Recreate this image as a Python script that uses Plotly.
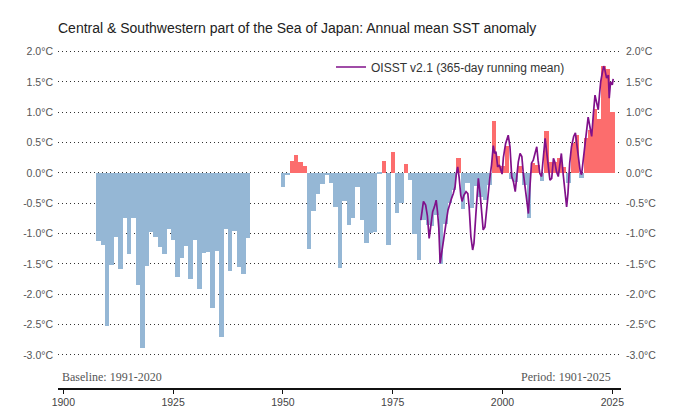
import plotly.graph_objects as go

# ---- annual mean SST anomaly bars (°C, baseline 1991-2020) ----
years_a = list(range(1908, 1943))
vals_a = [-1.13, -1.18, -2.52, -1.52, -1.05, -1.58, -0.75, -1.34, -0.75, -1.85,
          -2.88, -1.54, -0.97, -1.05, -1.22, -1.34, -0.92, -1.11, -1.71, -1.40,
          -1.21, -1.75, -1.10, -1.92, -1.32, -1.31, -2.23, -1.29, -2.71, -0.93,
          -1.62, -0.95, -1.55, -1.66, -1.07]
years_b = list(range(1950, 2026))
vals_b = [-0.23, -0.04, 0.20, 0.29, 0.18, 0.11, -1.26, -0.62, -0.34, -0.18,
          -0.04, -0.17, -0.56, -1.56, -0.46, -0.86, -0.75, -0.23, -0.77, -1.15,
          -0.99, -0.97, -0.02, 0.19, -1.19, 0.35, -0.66, -0.50, 0.15, -0.11,
          -1.00, -1.44, -0.78, -0.86, -0.88, -0.70, -1.50, -0.85, -0.50, -0.28,
          0.24, -0.60, -0.17, -0.58, -0.22, -0.40, -0.45, -0.20, 0.86, 0.28,
          0.12, 0.45, -0.10, -0.15, 0.12, -0.20, -0.75, 0.17, 0.13, -0.14,
          0.69, 0.18, 0.18, 0.25, 0.10, -0.17, 0.50, 0.62, -0.08, 0.58,
          0.70, 1.05, 0.88, 1.76, 1.71, 1.01]

# ---- OISST v2.1 365-day running mean (decimal year, °C) ----
oi_t = [1981.4, 1982.0, 1982.5, 1982.9, 1983.3, 1983.7, 1984.1, 1984.5, 1984.9, 1985.2,
        1985.5, 1985.8, 1986.2, 1986.5, 1986.9, 1987.3, 1987.6, 1988.0, 1988.4, 1988.8,
        1989.2, 1989.5, 1989.8, 1990.1, 1990.5, 1990.8, 1991.2, 1991.7, 1992.1, 1992.4,
        1992.8, 1993.2, 1993.5, 1993.9, 1994.2, 1994.5, 1994.9, 1995.3, 1995.6, 1996.0,
        1996.4, 1996.8, 1997.1, 1997.5, 1997.9, 1998.2, 1998.5, 1998.9, 1999.3, 1999.6,
        1999.9, 2000.2, 2000.7, 2001.3, 2001.7, 2002.1, 2002.5, 2002.9, 2003.2, 2003.6,
        2004.0, 2004.4, 2004.7, 2005.1, 2005.5, 2005.9, 2006.2, 2006.6, 2007.0, 2007.4,
        2007.8, 2008.1, 2008.5, 2008.9, 2009.3, 2009.7, 2010.0, 2010.4, 2010.8, 2011.2,
        2011.6, 2011.9, 2012.3, 2012.7, 2013.1, 2013.4, 2013.8, 2014.2, 2014.6, 2014.9,
        2015.3, 2015.7, 2016.2, 2016.6, 2017.0, 2017.4, 2017.7, 2018.0, 2018.4, 2018.8,
        2019.2, 2019.5, 2019.9, 2020.3, 2020.7, 2021.06, 2021.4, 2021.8, 2022.05, 2022.35,
        2022.7, 2023.03, 2023.3, 2023.7, 2024.1, 2024.3, 2024.6, 2025.0, 2025.2]
oi_v = [-0.78, -0.47, -0.53, -0.71, -1.08, -0.80, -0.64, -0.56, -0.45, -0.64,
        -0.91, -1.49, -1.27, -1.11, -0.89, -0.75, -0.61, -0.50, -0.42, -0.34,
        -0.23, -0.01, 0.10, -0.06, -0.37, -0.47, -0.37, -0.31, -0.34, -0.56,
        -1.05, -1.27, -1.16, -0.72, -0.34, -0.09, -0.34, -0.72, -0.94, -0.89,
        -0.56, -0.26, -0.09, 0.13, 0.45, 0.32, 0.35, 0.10, 0.13, 0.05,
        -0.02, 0.25, 0.48, 0.62, 0.43, -0.06, -0.15, -0.31, -0.12, 0.18,
        0.32, 0.27, 0.02, -0.23, -0.50, -0.67, -0.28, 0.16, 0.21, 0.32,
        0.43, 0.21, -0.01, -0.06, 0.32, 0.57, 0.38, 0.16, -0.12, -0.09,
        0.24, 0.18, 0.02, -0.06, 0.20, 0.32, -0.01, -0.28, -0.56, -0.34,
        0.16, 0.43, 0.60, 0.66, 0.40, 0.12, 0.02, -0.03, 0.24, 0.46,
        0.79, 0.92, 0.76, 0.60, 0.98, 1.28, 1.17, 1.04, 1.26, 1.50,
        1.64, 1.76, 1.70, 1.56, 1.61, 1.23, 1.50, 1.45, 1.55]

tick_vals = [2.0, 1.5, 1.0, 0.5, 0.0, -0.5, -1.0, -1.5, -2.0, -2.5, -3.0]
tick_text = ["2.0°C", "1.5°C", "1.0°C", "0.5°C", "0.0°C", "-0.5°C", "-1.0°C",
             "-1.5°C", "-2.0°C", "-2.5°C", "-3.0°C"]
x_ticks = [1900, 1925, 1950, 1975, 2000, 2025]

BLUE = "#95b7d5"
RED = "#fc6d6d"
PURPLE = "#80108a"
SANS = "Liberation Sans, Arial, sans-serif"
SERIF = "Liberation Serif, Times New Roman, serif"

# page body has an 8px margin, so the figure is laid out 8px smaller
W, H = 672, 412
ML, MR, MT, MB = 50, 59, 28, 32
PW, PH = W - ML - MR, H - MT - MB  # 563 x 352

bar_x = years_a + years_b
bar_y = vals_a + vals_b
bar_c = [RED if v > 0 else BLUE for v in bar_y]

fig = go.Figure()
fig.add_trace(go.Bar(x=bar_x, y=bar_y, width=1.0, marker=dict(color=bar_c, line=dict(width=0)),
                     showlegend=False, hoverinfo="x+y"))
fig.add_trace(go.Scatter(x=oi_t, y=oi_v, mode="lines", name="OISST v2.1 (365-day running mean)",
                         line=dict(color=PURPLE, width=1.7)))
fig.add_trace(go.Scatter(x=[], y=[], yaxis="y2", showlegend=False, hoverinfo="skip"))

yr = [-3.544, 2.255]
yaxis_common = dict(range=yr, tickmode="array", tickvals=tick_vals, ticktext=tick_text,
                    tickfont=dict(family=SANS, size=10.5, color="#555"), ticks="",
                    showline=False, zeroline=False, fixedrange=True)

fig.update_layout(
    width=W, height=H,
    margin=dict(l=ML, r=MR, t=MT, b=MB),
    paper_bgcolor="white", plot_bgcolor="white",
    bargap=0,
    title=dict(text="Central & Southwestern part of the Sea of Japan: Annual mean SST anomaly",
               x=ML / W, xanchor="left", y=1 - 20 / H, yanchor="middle",
               font=dict(family=SANS, size=14, color="#222")),
    xaxis=dict(range=[1898.79, 2026.98], tickmode="array", tickvals=x_ticks,
               showgrid=False, zeroline=False, showline=True, linecolor="#111", linewidth=1.5,
               ticks="outside", ticklen=4, tickcolor="#111", tickwidth=1,
               tickfont=dict(family=SANS, size=10.5, color="#444")),
    yaxis=dict(**yaxis_common, showgrid=True, gridcolor="#333", gridwidth=1,
               griddash="1px,3px", ticklabelstandoff=4),
    yaxis2=dict(**yaxis_common, overlaying="y", side="right", showgrid=False,
                ticklabelstandoff=4),
    legend=dict(x=(331 - 58) / PW, xanchor="left", y=(388 - 67) / PH, yanchor="middle",
                bgcolor="rgba(0,0,0,0)", font=dict(family=SANS, size=12, color="#333")),
    annotations=[
        dict(text="Baseline: 1991-2020", xref="paper", yref="paper",
             x=(60 - 58) / PW, xanchor="left", y=(388 - 377) / PH, yanchor="middle",
             showarrow=False, font=dict(family=SERIF, size=12, color="#555")),
        dict(text="Period: 1901-2025", xref="paper", yref="paper",
             x=(613 - 58) / PW, xanchor="right", y=(388 - 377) / PH, yanchor="middle",
             showarrow=False, font=dict(family=SERIF, size=12, color="#555")),
    ],
)

fig.write_html("out.html")
